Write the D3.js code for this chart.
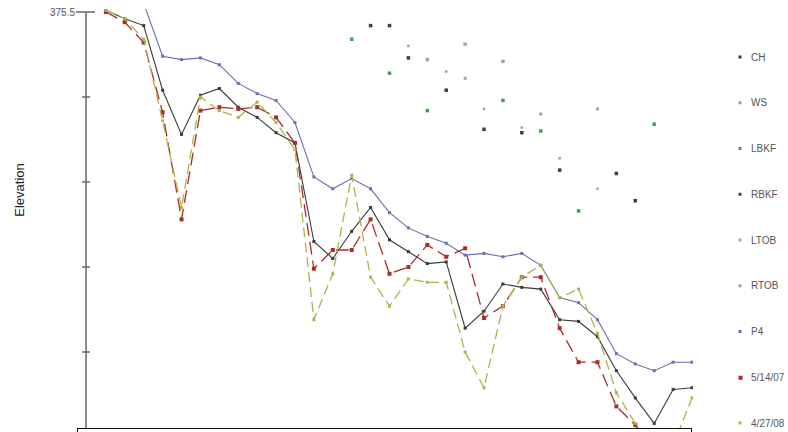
<!DOCTYPE html>
<html>
<head>
<meta charset="utf-8">
<script src="https://d3js.org/d3.v7.min.js"></script>
<style>
  body { margin: 0; background: #fff; }
  text { font-family: "Liberation Sans", Arial, sans-serif; }
</style>
</head>
<body>
<div id="my_dataviz"></div>
<script>
// stations along the profile (index of survey station)
var stations = [0,1,2,3,4,5,6,7,8,9,10,11,12,13,14,15,16,17,18,19,20,21,22,23,24,25,26,27,28,29,30,31];

// profile lines (elevation per station, null = no reading)
var p4 = [null,null,375.55,375.24,375.22,375.23,375.19,375.08,375.02,374.98,374.85,374.53,374.46,374.52,374.46,374.32,
          374.23,374.18,374.14,374.07,374.08,374.06,374.08,374.01,373.82,373.79,373.69,373.49,373.43,373.39,373.44,373.44];
var ch = [375.51,375.46,375.42,375.04,374.78,375.01,375.05,374.94,374.88,374.79,374.73,374.15,374.05,374.21,374.35,374.16,
          374.09,374.02,374.03,373.64,373.74,373.90,373.88,373.87,373.69,373.68,373.59,373.39,373.23,373.08,373.28,373.29];
var may07 = [375.50,375.44,375.32,374.91,374.28,374.92,374.94,374.93,374.94,374.88,374.73,373.99,374.10,374.10,374.28,373.96,
             374.00,374.13,374.06,374.11,373.70,373.77,373.94,373.94,373.64,373.44,373.44,373.18,373.07,372.92,372.86,372.92];
var apr08 = [375.51,375.46,375.34,374.86,374.35,375.00,374.92,374.88,374.97,374.85,374.69,373.69,373.96,374.54,373.94,373.77,
             373.93,373.91,373.91,373.50,373.29,373.77,373.94,374.01,373.82,373.87,373.61,373.26,373.08,372.92,372.95,373.23];

// scattered survey points: [station, elevation]
var ws = [[16,375.30],[18,375.15],[20,374.93],[22,374.82],[24,374.64],[26,374.46]];
var lbkf = [[13,375.34],[15,375.14],[17,374.92],[21,374.98],[23,374.80],[25,374.33],[29,374.84]];
var rbkf = [[14,375.42],[15,375.42],[16,375.23],[18,375.04],[20,374.81],[22,374.79],[24,374.57],[27,374.55],[28,374.39]];
var ltob = [[17,375.22],[19,375.31],[21,375.21]];
var rtob = [[19,375.11],[23,374.90],[26,374.93]];

// legend entries and y axis labels
var legendNames = ["CH","WS","LBKF","RBKF","LTOB","RTOB","P4","5/14/07","4/27/08"];
var yTickLabels = [[375.5,"375.5"],[373,"373.0"]];
var yMinorTicks = [375.0,374.5,374.0,373.5];

var colors = {
  "CH": "#3a3a3a", "WS": "#a0a0a0", "LBKF": "#46a046", "RBKF": "#4a3450",
  "LTOB": "#aaa4aa", "RTOB": "#b894aa", "P4": "#6a70b0", "5/14/07": "#a82c2c", "4/27/08": "#b2b24a"
};

var width = 788, height = 432;

var svg = d3.select("#my_dataviz")
  .append("svg")
    .attr("width", width)
    .attr("height", height);

// scales
var x = d3.scaleLinear()
  .domain([-1, 31])
  .range([87, 692]);
var y = d3.scaleLinear()
  .domain([373, 375.5])
  .range([437, 12]);

svg.append("clipPath")
    .attr("id", "plotclip")
  .append("rect")
    .attr("x", 87).attr("y", 9)
    .attr("width", 606).attr("height", 420);

var plot = svg.append("g").attr("clip-path", "url(#plotclip)");

function toPts(vals) {
  return stations.map(function(s, i) { return [s, vals[i]]; })
    .filter(function(d) { return d[1] != null; });
}

var line = d3.line()
  .x(function(d) { return x(d[0]); })
  .y(function(d) { return y(d[1]); });

// profile lines
var lines = [
  {name: "P4", pts: toPts(p4), dash: null, w: 1.1, m: 3},
  {name: "CH", pts: toPts(ch), dash: null, w: 1.1, m: 3},
  {name: "5/14/07", pts: toPts(may07), dash: "13,6", w: 1.3, m: 4},
  {name: "4/27/08", pts: toPts(apr08), dash: "10,5", w: 1.3, m: 3}
];

lines.forEach(function(l) {
  plot.append("path")
    .datum(l.pts)
    .attr("fill", "none")
    .attr("stroke", colors[l.name])
    .attr("stroke-width", l.w)
    .attr("stroke-dasharray", l.dash)
    .attr("d", line);

  plot.append("g")
    .selectAll("mk")
    .data(l.pts)
    .enter()
    .append("rect")
      .attr("x", function(d) { return x(d[0]) - l.m / 2; })
      .attr("y", function(d) { return y(d[1]) - l.m / 2; })
      .attr("width", l.m)
      .attr("height", l.m)
      .attr("fill", colors[l.name]);
});

// scattered points
var scatter = [
  {name: "WS", pts: ws, s: 2.5},
  {name: "LBKF", pts: lbkf, s: 3.5},
  {name: "RBKF", pts: rbkf, s: 3.5},
  {name: "LTOB", pts: ltob, s: 3.5},
  {name: "RTOB", pts: rtob, s: 3}
];
scatter.forEach(function(sc) {
  plot.append("g")
    .selectAll("pt")
    .data(sc.pts)
    .enter()
    .append("rect")
      .attr("x", function(d) { return x(d[0]) - sc.s / 2; })
      .attr("y", function(d) { return y(d[1]) - sc.s / 2; })
      .attr("width", sc.s)
      .attr("height", sc.s)
      .attr("fill", colors[sc.name]);
});

// y axis line and ticks
svg.append("line")
  .attr("x1", 86).attr("x2", 86)
  .attr("y1", y(375.5)).attr("y2", 432)
  .attr("stroke", "#666").attr("stroke-width", 1.5);

svg.selectAll("minor")
  .data(yMinorTicks)
  .enter()
  .append("line")
    .attr("x1", 82).attr("x2", 90)
    .attr("y1", function(d) { return y(d); })
    .attr("y2", function(d) { return y(d); })
    .attr("stroke", "#666").attr("stroke-width", 1.5);

svg.selectAll("major")
  .data(yTickLabels)
  .enter()
  .append("line")
    .attr("x1", 76).attr("x2", 95)
    .attr("y1", function(d) { return y(d[0]); })
    .attr("y2", function(d) { return y(d[0]); })
    .attr("stroke", "#666").attr("stroke-width", 1.5);

svg.selectAll("ylab")
  .data(yTickLabels)
  .enter()
  .append("text")
    .attr("x", 75)
    .attr("y", function(d) { return y(d[0]); })
    .attr("dy", "0.35em")
    .attr("text-anchor", "end")
    .attr("font-size", 10)
    .attr("fill", "#555")
    .text(function(d) { return d[1]; });

svg.append("text")
  .attr("transform", "translate(24,190) rotate(-90)")
  .attr("text-anchor", "middle")
  .attr("font-size", 13)
  .attr("fill", "#222")
  .text("Elevation");

// box along the bottom edge
svg.append("rect")
  .attr("x", 77.5).attr("y", 428.5)
  .attr("width", 614).attr("height", 20)
  .attr("fill", "#fff")
  .attr("stroke", "#111").attr("stroke-width", 1);

// legend
var legend = svg.append("g")
  .selectAll("lg")
  .data(legendNames)
  .enter()
  .append("g")
    .attr("transform", function(d, i) { return "translate(740," + (57 + i * 45.75) + ")"; });

legend.append("rect")
  .attr("x", -1.5).attr("y", -1.5)
  .attr("width", function(d) { return d == "5/14/07" ? 4 : 3; })
  .attr("height", function(d) { return d == "5/14/07" ? 4 : 3; })
  .attr("fill", function(d) { return colors[d]; });

legend.append("text")
  .attr("x", 11)
  .attr("dy", "0.35em")
  .attr("font-size", 10)
  .attr("fill", "#555")
  .text(function(d) { return d; });
</script>
</body>
</html>
